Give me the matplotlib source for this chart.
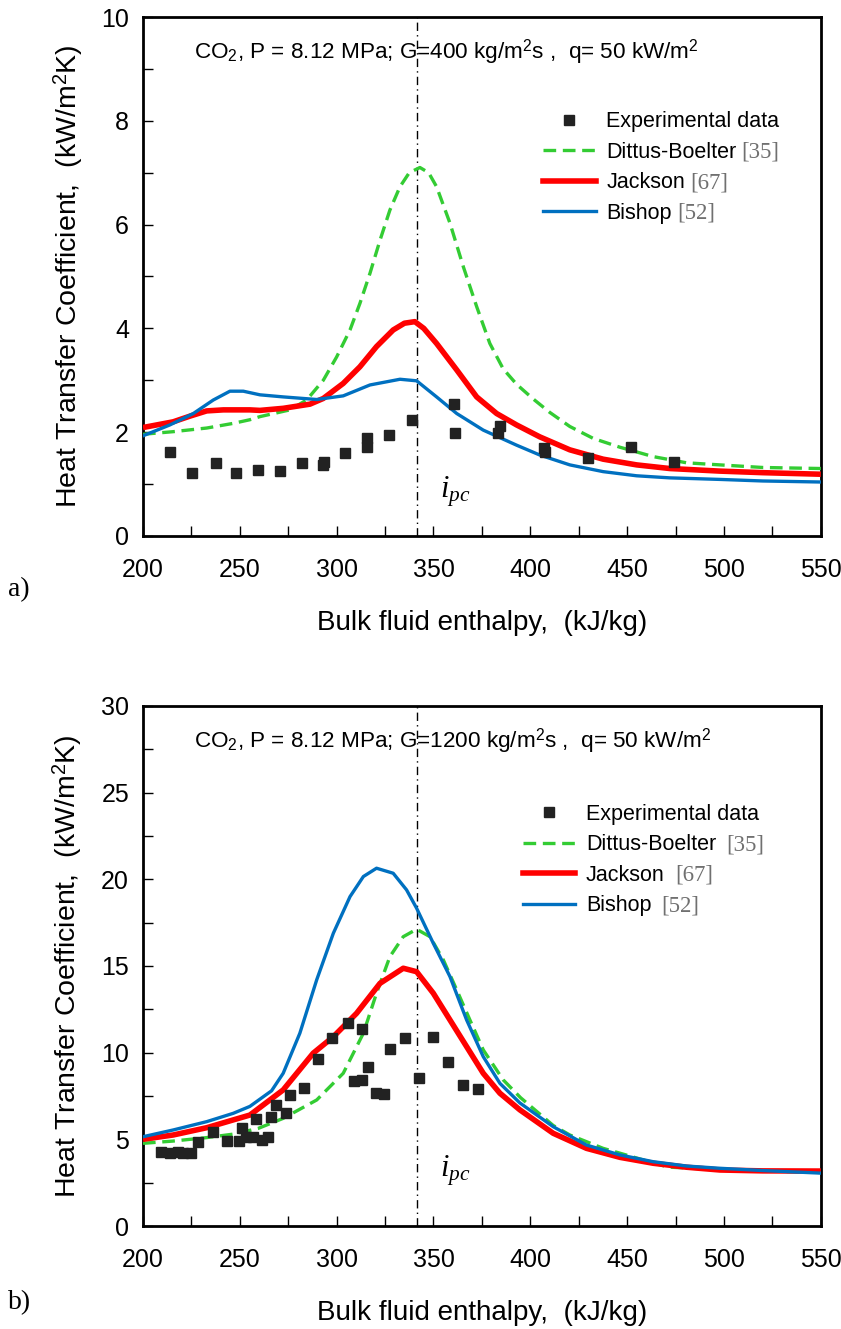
import matplotlib
matplotlib.use('Agg')
import matplotlib.pyplot as plt
from matplotlib.ticker import MultipleLocator
from matplotlib.lines import Line2D
from matplotlib.transforms import IdentityTransform

plt.rcParams['font.family'] = ['Liberation Sans', 'DejaVu Sans']
plt.rcParams['mathtext.fontset'] = 'custom'
plt.rcParams['mathtext.rm'] = 'Liberation Sans'
plt.rcParams['mathtext.it'] = 'Liberation Serif:italic'

ipc = 341.5  # pseudocritical enthalpy, kJ/kg

# ---- a) G = 400 kg/m2s ----
exp_a_h = [214, 225.5, 237.6, 248.2, 259.6, 271, 282.2, 293.3, 292.9, 304.5,
           315.9, 315.9, 326.8, 338.9, 360.5, 361.2, 383.1, 384.4, 406.9, 407.4,
           429.7, 451.8, 474.4]
exp_a_htc = [1.61, 1.21, 1.41, 1.22, 1.28, 1.25, 1.41, 1.42, 1.36, 1.59,
             1.88, 1.72, 1.94, 2.24, 2.55, 1.99, 1.98, 2.12, 1.69, 1.61,
             1.50, 1.72, 1.43]

db_a_h = [200, 215.6, 232.9, 246.6, 255.2, 260.4, 275.9, 284.5, 293.1, 300,
          306.9, 312, 317.2, 322.4, 327.5, 332.7, 337.5, 343, 347.5, 351.6,
          358.5, 365.4, 372.3, 379.1, 386, 393, 401.5, 410.1, 420.4, 432.5,
          446.3, 463.4, 480.7, 497.9, 520, 550]
db_a_htc = [1.96, 2.01, 2.08, 2.17, 2.24, 2.30, 2.43, 2.62, 3.0, 3.45,
            3.97, 4.48, 5.06, 5.70, 6.28, 6.73, 7.0, 7.10, 7.0, 6.73,
            6.03, 5.19, 4.42, 3.71, 3.22, 2.92, 2.64, 2.38, 2.11, 1.88,
            1.71, 1.53, 1.41, 1.37, 1.32, 1.30]

jk_a_h = [200, 215.6, 224.3, 232.9, 241.5, 255.2, 260.4, 272.4, 286.2, 293.1,
          303.4, 312, 320.6, 329.2, 335, 340.4, 345, 351.6, 362, 372.3, 382.6,
          392.9, 404.9, 420.4, 437.6, 454.9, 472, 497.9, 520, 550]
jk_a_htc = [2.09, 2.20, 2.31, 2.41, 2.43, 2.43, 2.42, 2.46, 2.54, 2.65,
            2.94, 3.26, 3.65, 3.97, 4.10, 4.13, 4.0, 3.71, 3.20, 2.68, 2.36,
            2.14, 1.91, 1.66, 1.48, 1.37, 1.30, 1.25, 1.22, 1.19]

bs_a_h = [200, 213.9, 226, 236.3, 244.9, 251.8, 260.4, 272.4, 289.7, 303.4,
          317.2, 332.7, 341.3, 351.6, 362, 375.7, 392.9, 404.9, 420.4, 437.6,
          454.9, 472, 497.9, 520, 550]
bs_a_htc = [1.93, 2.14, 2.36, 2.62, 2.79, 2.79, 2.72, 2.68, 2.63, 2.70,
            2.91, 3.02, 2.99, 2.68, 2.36, 2.04, 1.75, 1.56, 1.37, 1.24,
            1.16, 1.12, 1.09, 1.06, 1.04]

# ---- b) G = 1200 kg/m2s ----
exp_b_h = [209.1, 214.1, 218.2, 220.9, 225, 228.4, 236.1, 243.6, 249.5, 251.1,
           253.4, 256.8, 258.6, 261.4, 264.5, 265.9, 268.6, 273.9, 275.9, 283.4,
           290.5, 297.7, 305.9, 313.2, 308.9, 313, 316.4, 320.5, 324.3, 327.7,
           335.2, 342.3, 350, 357.7, 365, 373]
exp_b_htc = [4.29, 4.19, 4.29, 4.19, 4.19, 4.83, 5.41, 4.92, 4.92, 5.68,
             5.12, 5.12, 6.16, 4.98, 5.12, 6.31, 6.99, 6.53, 7.57, 7.95,
             9.63, 10.83, 11.72, 11.37, 8.34, 8.44, 9.19, 7.68, 7.64, 10.23,
             10.83, 8.51, 10.89, 9.46, 8.15, 7.92]

db_b_h = [200, 215.6, 232.9, 246.6, 259.5, 272.4, 289.7, 303.4, 313.8, 320.6,
          327.5, 334.4, 341.3, 348.2, 355.1, 362, 368.8, 375.7, 386, 395,
          411.8, 420.4, 437.6, 446.3, 471, 497.9, 550]
db_b_htc = [4.77, 4.9, 5.1, 5.3, 5.63, 6.21, 7.27, 8.81, 11.12, 13.43,
            15.54, 16.69, 17.12, 16.69, 15.35, 13.62, 11.89, 10.16, 8.43, 7.4,
            5.8, 5.25, 4.48, 4.2, 3.4, 3.25, 3.09]

jk_b_h = [200, 215.6, 232.9, 246.6, 255.2, 272.4, 287.9, 298.3, 310.3, 322.4,
          334.4, 341.3, 349.9, 358.5, 367.1, 375.7, 384.3, 394.6, 411.8, 429,
          446.3, 463.4, 480.7, 497.9, 520, 550]
jk_b_htc = [5.0, 5.25, 5.67, 6.12, 6.4, 7.85, 9.97, 10.92, 12.27, 14.0,
            14.87, 14.67, 13.43, 11.89, 10.35, 8.81, 7.66, 6.7, 5.35, 4.48,
            3.96, 3.62, 3.39, 3.23, 3.18, 3.17]

bs_b_h = [200, 215.6, 232.9, 246.6, 255.2, 266.4, 272.4, 281, 289.7, 298.3,
          306.9, 313.8, 320.6, 329.2, 336.1, 341.3, 349.9, 358.5, 367.1, 375.7,
          384.3, 394.6, 411.8, 429, 446.3, 463.4, 480.7, 497.9, 520, 550]
bs_b_htc = [5.15, 5.54, 6.02, 6.5, 6.9, 7.8, 8.81, 11.12, 14.2, 16.89,
            19.0, 20.16, 20.64, 20.35, 19.39, 18.33, 16.31, 14.39, 11.89, 9.77,
            8.23, 7.1, 5.73, 4.67, 4.1, 3.71, 3.46, 3.33, 3.2, 3.05]

refs = ['[35]', '[67]', '[52]']

DASH = (0, (3.8, 2.0))


def draw_panel(ax, exp_h, exp_htc, db_h, db_htc, jk_h, jk_htc, bs_h, bs_htc,
               ymax, ystep, title, ipc_y, leg_xy):
    ax.plot(db_h, db_htc, color='#33cc33', lw=2.4, ls=DASH, zorder=3)
    ax.plot(jk_h, jk_htc, color='#ff0000', lw=4, zorder=4, solid_capstyle='butt')
    ax.plot(bs_h, bs_htc, color='#0070c0', lw=2.4, zorder=5)
    ax.plot(exp_h, exp_htc, ls='none', marker='s', ms=7.5, color='#222222', zorder=6)
    ax.axvline(ipc, color='black', lw=1, ls=(0, (6, 3, 1, 3)), zorder=2)

    ax.set_xlim(200, 550)
    ax.set_ylim(0, ymax)
    ax.xaxis.set_major_locator(MultipleLocator(50))
    ax.xaxis.set_minor_locator(MultipleLocator(25))
    ax.yaxis.set_major_locator(MultipleLocator(ystep))
    ax.yaxis.set_minor_locator(MultipleLocator(ystep / 2))
    ax.tick_params(which='both', direction='in', length=7, width=1)
    ax.tick_params(axis='x', which='both', pad=16, labelsize=18)
    ax.tick_params(axis='y', which='both', pad=10, labelsize=18)
    for s in ax.spines.values():
        s.set_linewidth(2)

    ax.set_xlabel('Bulk fluid enthalpy,  (kJ/kg)', fontsize=20, labelpad=20)
    ax.set_ylabel(r'Heat Transfer Coefficient,  (kW/m$^2$K)', fontsize=20.5, labelpad=12)

    ax.text(0.075, 0.932, title, transform=ax.transAxes, fontsize=16.2,
            va='center', ha='left')
    ax.text(ipc + 12, ipc_y, r'$i_{pc}$', fontsize=22, va='center', ha='left')

    handles = [Line2D([], [], ls='none', marker='s', ms=7.5, color='#222222'),
               Line2D([], [], color='#33cc33', lw=2.4, ls=DASH),
               Line2D([], [], color='#ff0000', lw=4),
               Line2D([], [], color='#0070c0', lw=2.4)]
    labels = ['Experimental data', 'Dittus-Boelter', 'Jackson', 'Bishop']
    leg = ax.legend(handles, labels, loc='upper left', bbox_to_anchor=leg_xy,
                    frameon=False, fontsize=15.5, handlelength=2.45,
                    handletextpad=0.5, labelspacing=0.44, borderpad=0,
                    borderaxespad=0)
    return leg


fig = plt.figure(figsize=(8.41, 13.29), dpi=100)
ax_a = fig.add_axes([0.170, 0.5967, 0.806, 0.3905])
ax_b = fig.add_axes([0.170, 0.0775, 0.806, 0.3913])

leg_a = draw_panel(ax_a, exp_a_h, exp_a_htc, db_a_h, db_a_htc, jk_a_h, jk_a_htc,
                   bs_a_h, bs_a_htc, 10, 2,
                   r'CO$_2$, P = 8.12 MPa; G=400 kg/m$^2$s ,  q= 50 kW/m$^2$',
                   0.85, (0.59, 0.818))
leg_b = draw_panel(ax_b, exp_b_h, exp_b_htc, db_b_h, db_b_htc, jk_b_h, jk_b_htc,
                   bs_b_h, bs_b_htc, 30, 5,
                   r'CO$_2$, P = 8.12 MPa; G=1200 kg/m$^2$s ,  q= 50 kW/m$^2$',
                   3.2, (0.56, 0.812))

fig.text(0.010, 1 - 590 / 1329, 'a)', fontsize=20, family='Liberation Serif', va='center')
fig.text(0.010, 1 - 1303 / 1329, 'b)', fontsize=20, family='Liberation Serif', va='center')

# grey reference numbers next to the legend entries (serif, as in the paper)
fig.canvas.draw()
renderer = fig.canvas.get_renderer()
for leg, gap in ((leg_a, 5), (leg_b, 10)):
    for txt, ref in zip(leg.get_texts()[1:], refs):
        bb = txt.get_window_extent(renderer)
        fig.text(bb.x1 + gap, (bb.y0 + bb.y1) / 2, ref, transform=IdentityTransform(),
                 va='center', ha='left', fontsize=16.5, color='#707070',
                 family='Liberation Serif')

fig.savefig('out.png', dpi=100)
